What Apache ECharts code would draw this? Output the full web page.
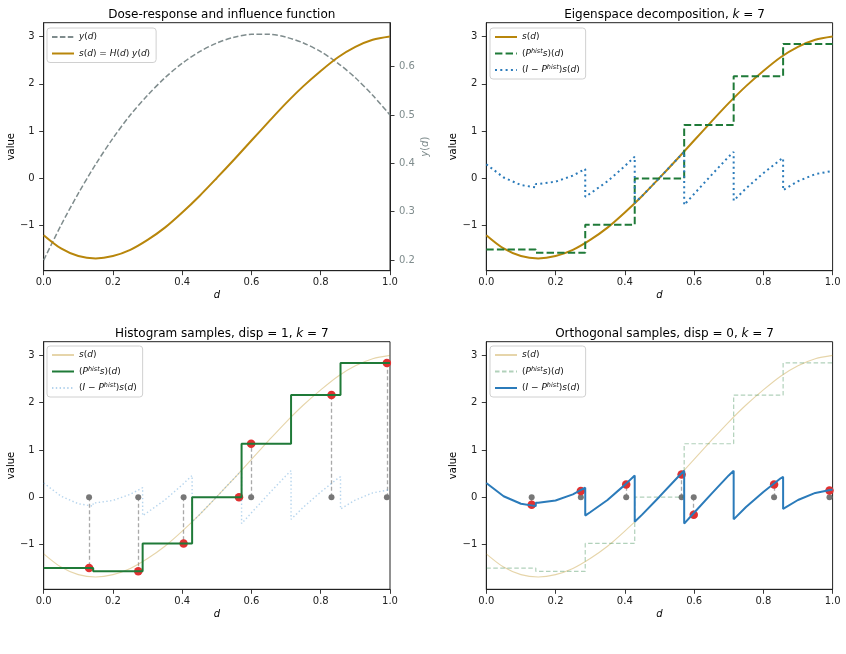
<!DOCTYPE html>
<html><head><meta charset="utf-8">
<script src="https://cdn.jsdelivr.net/npm/echarts@6/dist/echarts.min.js"></script>
<style>html,body{margin:0;padding:0;background:#fff}#c{width:846px;height:654px}</style>
</head><body><div id="c"></div>
<script>
// ---- data ----
const dGrid = [0,0.05,0.10,0.15,0.20,0.25,0.30,0.35,0.40,0.45,0.50,0.55,0.60,0.65,0.70,0.75,0.80,0.85,0.90,0.95,1.00];
const sVals = [-1.20,-1.48,-1.64,-1.69,-1.64,-1.51,-1.30,-1.04,-0.72,-0.37,0.01,0.40,0.80,1.20,1.59,1.95,2.27,2.56,2.78,2.93,3.00];
const yVals = [0.200,0.272,0.338,0.398,0.452,0.500,0.541,0.577,0.607,0.631,0.649,0.661,0.667,0.667,0.661,0.649,0.631,0.607,0.577,0.541,0.500];
const binEdges = [0,0.1429,0.2857,0.4286,0.5714,0.7143,0.8571,1.0];
const pHist = [-1.50,-1.57,-0.98,0.00,1.13,2.16,2.84];
const residD = [0,0.05,0.10,0.1429, 0.1429,0.15,0.20,0.25,0.2857, 0.2857,0.30,0.35,0.40,0.4286, 0.4286,0.45,0.50,0.55,0.5714, 0.5714,0.60,0.65,0.70,0.7143, 0.7143,0.75,0.80,0.85,0.8571, 0.8571,0.90,0.95,1.00];
const residVals = [0.30,0.02,-0.14,-0.19, -0.12,-0.12,-0.07,0.06,0.20, -0.39,-0.32,-0.06,0.26,0.46, -0.52,-0.37,0.01,0.40,0.56, -0.56,-0.33,0.07,0.46,0.56, -0.47,-0.21,0.11,0.40,0.43, -0.25,-0.06,0.09,0.16];
const sampleD = [0.131,0.273,0.404,0.564,0.599,0.831,0.991];
const histSampleVals = [-1.50,-1.57,-0.98,0.00,1.13,2.16,2.84];
const orthSampleVals = [-0.16,0.13,0.27,0.48,-0.37,0.27,0.14];
const xTicks = [0,0.2,0.4,0.6,0.8,1.0];
const yTicks = [-1,0,1,2,3];
const yRightTicks = [0.2,0.3,0.4,0.5,0.6];

// ---- styling ----
const FONT = 'DejaVu Sans';
const GOLD = '#b8860b', GREEN = '#1f7a38', BLUE = '#2b7bba', GRAY = '#7f8c8d', RED = '#e03131';
const sPts = dGrid.map((d,i)=>[d,sVals[i]]);
const yPts = dGrid.map((d,i)=>[d,yVals[i]]);
const pPts = binEdges.map((e,i)=>[e,pHist[Math.min(i,pHist.length-1)]]);
const rPts = residD.map((d,i)=>[d,residVals[i]]);

const grids = [
  {left:43.7, top:22.7, width:346.3, height:248},
  {left:486.3, top:22.7, width:346.3, height:248},
  {left:43.7, top:341.7, width:346.3, height:247.6},
  {left:486.3, top:341.7, width:346.3, height:247.6}
].map(g=>Object.assign({show:true, borderColor:'#222', borderWidth:1, backgroundColor:'transparent'}, g));

const minus = v => (v<0 ? '\u2212'+Math.abs(v) : String(v));
function xAxis(gi){
  return {type:'value', gridIndex:gi, min:0, max:1, interval:0.2,
    name:'{i|d}', nameLocation:'middle', nameGap:20,
    nameTextStyle:{fontSize:10, color:'#000', fontFamily:FONT, rich:{i:{fontStyle:'italic', fontSize:10, fontFamily:FONT}}},
    axisLine:{show:true, onZero:false, lineStyle:{color:'#222', width:1}},
    axisTick:{show:true, length:4.5, lineStyle:{color:'#222', width:0.9}, customValues:xTicks},
    axisLabel:{fontSize:10, color:'#222', margin:7, fontFamily:FONT, customValues:xTicks, formatter:v=>v.toFixed(1)},
    splitLine:{show:false}};
}
function yAxis(gi){
  return {type:'value', gridIndex:gi, min:-1.95, max:3.29,
    name:'value', nameLocation:'middle', nameGap:27, nameRotate:90,
    nameTextStyle:{fontSize:10, color:'#000', fontFamily:FONT},
    axisLine:{show:true, onZero:false, lineStyle:{color:'#222', width:1}},
    axisTick:{show:true, length:4.5, lineStyle:{color:'#222', width:0.9}, customValues:yTicks},
    axisLabel:{fontSize:10, color:'#222', margin:9, fontFamily:FONT, customValues:yTicks, formatter:minus},
    splitLine:{show:false}};
}
const rightAxis = {type:'value', gridIndex:0, position:'right', min:0.178, max:0.691,
  name:'{i|y}({i|d})', nameLocation:'middle', nameGap:30, nameRotate:90,
  nameTextStyle:{fontSize:10, color:GRAY, fontFamily:FONT, rich:{i:{fontStyle:'italic', fontSize:10, color:GRAY, fontFamily:FONT}}},
  axisLine:{show:true, onZero:false, lineStyle:{color:'#222', width:1}},
  axisTick:{show:true, length:4.5, lineStyle:{color:'#222', width:0.9}, customValues:yRightTicks},
  axisLabel:{fontSize:10, color:GRAY, margin:9, fontFamily:FONT, customValues:yRightTicks, formatter:v=>v.toFixed(1)},
  splitLine:{show:false}};

const labelMap = {
  y1:'{i|y}({i|d})',
  s1:'{i|s}({i|d}) = {i|H}({i|d}) {i|y}({i|d})',
  s2:'{i|s}({i|d})', s3:'{i|s}({i|d})', s4:'{i|s}({i|d})',
  P2:'({i|P}{sup|hist}{i|s})({i|d})', P3:'({i|P}{sup|hist}{i|s})({i|d})', P4:'({i|P}{sup|hist}{i|s})({i|d})',
  R2:'({i|I} \u2212 {i|P}{sup|hist}){i|s}({i|d})', R3:'({i|I} \u2212 {i|P}{sup|hist}){i|s}({i|d})', R4:'({i|I} \u2212 {i|P}{sup|hist}){i|s}({i|d})'
};
function legend(left, top, names){
  return {left:left, top:top, orient:'vertical', data:names, formatter:n=>labelMap[n],
    padding:[3,6,3,4], itemGap:4.5, itemWidth:22, itemHeight:10, selectedMode:false,
    itemStyle:{opacity:0},
    backgroundColor:'rgba(255,255,255,0.85)', borderColor:'#d0d0d0', borderWidth:1, borderRadius:3,
    textStyle:{fontSize:9, color:'#111', fontFamily:FONT, lineHeight:12,
      rich:{i:{fontStyle:'italic', fontSize:9, fontFamily:FONT, lineHeight:12, color:'#111'},
            sup:{fontStyle:'italic', fontSize:6.5, fontFamily:FONT, lineHeight:7, verticalAlign:'top', color:'#111'}}}};
}
function line(name, xi, yi, data, color, width, type, opacity, extra){
  return Object.assign({type:'line', name:name, xAxisIndex:xi, yAxisIndex:yi, data:data, showSymbol:false, symbol:'none',
    lineStyle:{color:color, width:width, type:type, opacity:opacity, cap:'butt'}, itemStyle:{color:color, opacity:opacity},
    animation:false, silent:true}, extra||{});
}
function dots(xi, yi, vals, color, size){
  return {type:'scatter', xAxisIndex:xi, yAxisIndex:yi, data:sampleD.map((d,i)=>[d, vals===null?0:vals[i]]),
    symbolSize:size, itemStyle:{color:color, opacity:1}, animation:false, silent:true};
}
function conns(xi, yi, vals){
  return {type:'lines', coordinateSystem:'cartesian2d', xAxisIndex:xi, yAxisIndex:yi,
    data:sampleD.map((d,i)=>({coords:[[d,0],[d,vals[i]]]})),
    lineStyle:{color:'#9a9a9a', width:1.3, type:[4,2.5], opacity:0.85}, animation:false, silent:true};
}
const titleStyle = {fontSize:12, fontWeight:'normal', color:'#000', fontFamily:FONT,
  rich:{i:{fontStyle:'italic', fontSize:12, fontFamily:FONT, color:'#000'}}};
const option = {
  animation:false,
  textStyle:{fontFamily:FONT},
  title:[
    {text:'Dose-response and influence function', left:216.8, top:4, textAlign:'center', textStyle:titleStyle},
    {text:'Eigenspace decomposition, {i|k} = 7', left:659.5, top:4, textAlign:'center', textStyle:titleStyle},
    {text:'Histogram samples, disp = 1, {i|k} = 7', left:216.8, top:323, textAlign:'center', textStyle:titleStyle},
    {text:'Orthogonal samples, disp = 0, {i|k} = 7', left:659.5, top:323, textAlign:'center', textStyle:titleStyle}
  ],
  grid:grids,
  xAxis:[xAxis(0), xAxis(1), xAxis(2), xAxis(3)],
  yAxis:[yAxis(0), rightAxis, yAxis(1), yAxis(2), yAxis(3)],
  legend:[legend(47,28,['y1','s1']), legend(490,28,['s2','P2','R2']), legend(47,346,['s3','P3','R3']), legend(490,346,['s4','P4','R4'])],
  series:[
    // panel 1
    line('y1',0,1,yPts,GRAY,1.5,[5.5,2.4],1,{smooth:0.3}),
    line('s1',0,0,sPts,GOLD,2,'solid',1,{smooth:0.3}),
    // panel 2
    line('s2',1,2,sPts,GOLD,2,'solid',1,{smooth:0.3}),
    line('P2',1,2,pPts,GREEN,2,[7.4,3.2],1,{step:'end'}),
    line('R2',1,2,rPts,BLUE,2,[2,3.3],1),
    // panel 3
    line('s3',2,3,sPts,GOLD,1.1,'solid',0.35,{smooth:0.3}),
    line('R3',2,3,rPts,'#5a9fd6',1.4,[1.4,2.4],0.45),
    line('P3',2,3,pPts,GREEN,2,'solid',1,{step:'end'}),
    conns(2,3,histSampleVals),
    dots(2,3,null,'#777',6),
    dots(2,3,histSampleVals,RED,8.5),
    // panel 4
    line('s4',3,4,sPts,GOLD,1.1,'solid',0.35,{smooth:0.3}),
    line('P4',3,4,pPts,GREEN,1.2,[4.5,2.5],0.35,{step:'end'}),
    conns(3,4,orthSampleVals),
    dots(3,4,null,'#777',6),
    line('R4',3,4,rPts,BLUE,2,'solid',1),
    dots(3,4,orthSampleVals,RED,8.5)
  ]
};
const chart = echarts.init(document.getElementById('c'), null, {renderer:'canvas'});
chart.setOption(option);
</script>
</body></html>
